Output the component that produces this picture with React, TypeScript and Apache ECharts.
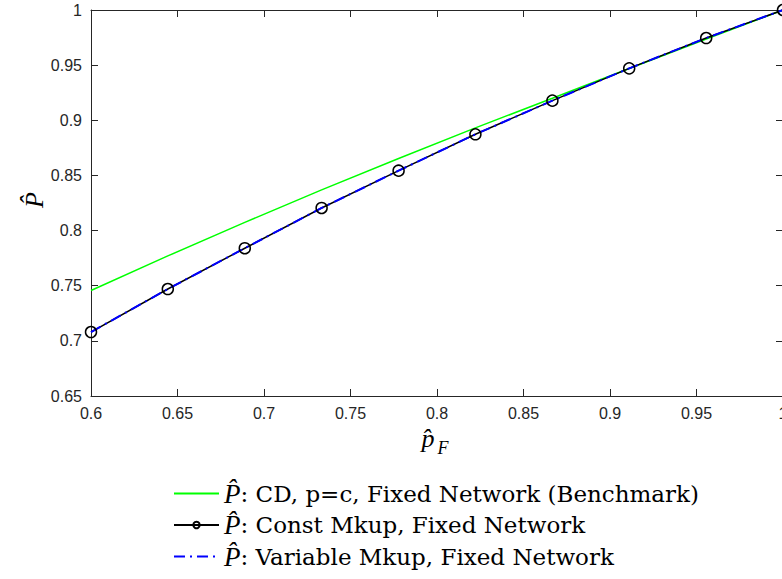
import React, { useEffect, useRef } from "react";
import * as echarts from "echarts";

const xVals = [0.6, 0.6444, 0.6889, 0.7333, 0.7778, 0.8222, 0.8667, 0.9111, 0.9556, 1.0];
const benchmark = [0.7457, 0.777, 0.8074, 0.8369, 0.8654, 0.8931, 0.92, 0.947, 0.9737, 1.0];
const constMkup = [0.708, 0.747, 0.784, 0.8205, 0.8543, 0.8873, 0.9178, 0.9471, 0.9746, 1.0];
const variableMkup = [0.708, 0.747, 0.784, 0.8205, 0.8543, 0.8873, 0.9178, 0.9471, 0.9746, 1.0];
const xTicks = { min: 0.6, max: 1, step: 0.05 };
const yTicks = { min: 0.65, max: 1, step: 0.05 };
const seriesNames = ["bench", "const", "var"];
const legendTexts = [
  ": CD, p=c, Fixed Network (Benchmark)",
  ": Const Mkup, Fixed Network",
  ": Variable Mkup, Fixed Network",
];

const zip = (xs: number[], ys: number[]) => xs.map((x, i) => [x, ys[i]]);
const fmt = (v: number) => String(+v.toFixed(2));

const axisCol = "#262626";
const tickFont = { fontFamily: "Liberation Sans", fontSize: 16, color: axisCol };
const serif = "DejaVu Serif";
const serif2 = "Liberation Serif";

export default function App() {
  const ref = useRef<HTMLDivElement>(null);
  useEffect(() => {
    if (!ref.current) return;
    const chart = echarts.init(ref.current, null, { renderer: "svg" });
    const axisCommon = {
      type: "value" as const,
      axisLine: { show: true, onZero: false, lineStyle: { color: axisCol, width: 1 } },
      axisTick: { show: true, inside: true, length: 7, lineStyle: { color: axisCol, width: 1 } },
      splitLine: { show: false },
    };
    chart.setOption({
      animation: false,
      backgroundColor: "#fff",
      grid: { left: 91, right: -1, top: 10, bottom: 183, containLabel: false, outerBoundsMode: "none" },
      xAxis: [
        {
          ...axisCommon,
          position: "bottom",
          min: xTicks.min,
          max: xTicks.max,
          interval: xTicks.step,
          axisLabel: { ...tickFont, margin: 9, formatter: fmt, showMaxLabel: true, showMinLabel: true, hideOverlap: false },
        },
        {
          ...axisCommon,
          position: "top",
          min: xTicks.min,
          max: xTicks.max,
          interval: xTicks.step,
          axisLabel: { show: false },
        },
      ],
      yAxis: [
        {
          ...axisCommon,
          position: "left",
          min: yTicks.min,
          max: yTicks.max,
          interval: yTicks.step,
          axisLabel: { ...tickFont, margin: 9, formatter: fmt },
        },
        {
          ...axisCommon,
          position: "right",
          min: yTicks.min,
          max: yTicks.max,
          interval: yTicks.step,
          axisLabel: { show: false },
        },
      ],
      legend: {
        orient: "vertical",
        left: 173,
        top: 480,
        padding: 0,
        itemWidth: 45,
        itemHeight: 8,
        itemGap: 4.5,
        data: [
          { name: seriesNames[0], itemStyle: { opacity: 0 } },
          { name: seriesNames[1] },
          { name: seriesNames[2], itemStyle: { opacity: 0 } },
        ],
        formatter: (name: string) => `{pa|P\u0302}{ta|${legendTexts[seriesNames.indexOf(name)]}}`,
        textStyle: {
          fontFamily: serif,
          fontSize: 23,
          color: "#000",
          rich: {
            pa: { fontFamily: serif2, fontStyle: "italic", fontSize: 27, color: "#000", lineHeight: 28 },
            ta: { fontFamily: serif, fontSize: 23, color: "#000", lineHeight: 28 },
          },
        },
      },
      series: [
        {
          name: seriesNames[0],
          type: "line",
          data: zip(xVals, benchmark),
          symbol: "none",
          lineStyle: { color: "#00ff00", width: 1.5 },
          itemStyle: { color: "#00ff00" },
        },
        {
          name: seriesNames[1],
          type: "line",
          data: zip(xVals, constMkup),
          symbol: "circle",
          symbolSize: 11,
          lineStyle: { color: "#000", width: 1.5 },
          itemStyle: { color: "rgba(0,0,0,0)", borderColor: "#000", borderWidth: 1.5 },
        },
        {
          name: seriesNames[2],
          type: "line",
          data: zip(xVals, variableMkup),
          symbol: "none",
          lineStyle: { color: "#0000ff", width: 2, type: [11, 5, 2, 5] },
          itemStyle: { color: "#0000ff" },
        },
      ],
      graphic: [
        {
          type: "text",
          x: 34,
          y: 200,
          rotation: Math.PI / 2,
          style: {
            text: "P\u0302",
            fontFamily: serif2,
            fontStyle: "italic",
            fontSize: 26,
            fill: "#000",
            align: "center",
            verticalAlign: "middle",
          },
        },
        {
          type: "text",
          x: 428,
          y: 438,
          style: {
            text: "p\u0302",
            fontFamily: serif2,
            fontStyle: "italic",
            fontSize: 26,
            fill: "#000",
            align: "center",
            verticalAlign: "middle",
          },
        },
        {
          type: "text",
          x: 443,
          y: 448,
          style: {
            text: "F",
            fontFamily: serif2,
            fontStyle: "italic",
            fontSize: 18,
            fill: "#000",
            align: "center",
            verticalAlign: "middle",
          },
        },
      ],
    });
    return () => chart.dispose();
  }, []);
  return <div ref={ref} style={{ width: 782, height: 579, position: "absolute", left: 0, top: 0 }} />;
}
